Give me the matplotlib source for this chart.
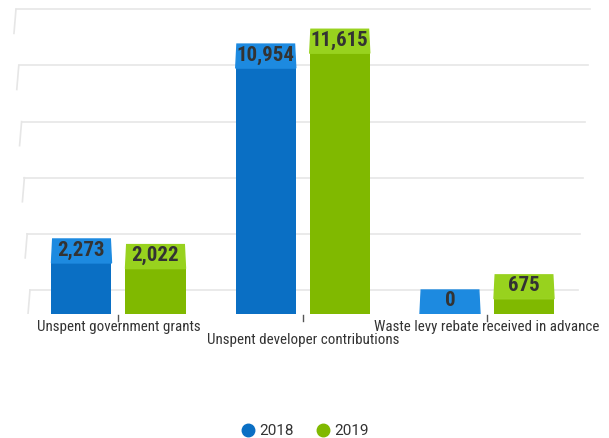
import matplotlib.pyplot as plt
from matplotlib.patches import Polygon
from matplotlib.lines import Line2D

categories = ['Unspent government grants', 'Unspent developer contributions',
              'Waste levy rebate received in advance']
series_names = ['2018', '2019']
values_2018 = [2273, 10954, 0]
values_2019 = [2022, 11615, 675]
grid_values = [0, 2500, 5000, 7500, 10000, 12500]

W, H = 609, 438
fig = plt.figure(figsize=(W / 100, H / 100), dpi=100)

# pixel layout of the fake 3d plot
px_per_unit = 0.02245   # vertical pixels per value unit
y0_px = 314             # front baseline, from top
group_px = 184.25       # distance between category centres
first_px = 118.5        # centre of first category

ax = fig.add_axes([0, (H - y0_px) / H, 1, (y0_px - 4) / H])
ax.set_ylim(0, (y0_px - 4) / px_per_unit)
ax.set_xlim(-first_px / group_px, (W - first_px) / group_px)
ax.axis('off')


def ux(px):
    return (px - first_px) / group_px


def uy(px):
    return (y0_px - px) / px_per_unit


depth = 24 / px_per_unit   # depth of top face / back wall in value units
text_col = '#333333'
grid_col = '#e6e6e6'
cond = 'Roboto Condensed'

# back wall gridlines + left side wall
for g in grid_values:
    yb_px = y0_px - (g + depth) * px_per_unit
    f = (yb_px - 10) / 280.0
    xl = 16 + 14 * f
    xr = 590 - 12 * f
    ax.plot([ux(xl), ux(xr)], [g + depth, g + depth], color=grid_col, lw=1.2, zorder=1)
    ax.plot([ux(xl), ux(xl - 2)], [g + depth, g], color=grid_col, lw=1.2, zorder=1)

# bars
bw = 60 / group_px
off = 37 / group_px
series = [(values_2018, -1, '#0a6fc4', '#1d8ae0'),
          (values_2019, 1, '#80b900', '#98d21e')]
for vals, sign, front, top in series:
    xs = [i + sign * off for i in range(len(categories))]
    ax.bar(xs, vals, width=bw, color=front, zorder=3)
    for x, v in zip(xs, vals):
        sh = 1.2 / group_px
        ax.add_patch(Polygon([(x - bw / 2, v), (x + bw / 2, v),
                              (x + bw / 2 - sh, v + depth), (x - bw / 2 + sh, v + depth)],
                             closed=True, color=top, zorder=3))
        ax.text(x, v + depth - 1.5 / px_per_unit, f'{v:,}', ha='center', va='top',
                fontsize=15, fontweight='bold', family=cond, color=text_col, zorder=4)

# category ticks and labels
for i, cat in enumerate(categories):
    ax.plot([i, i], [uy(315), uy(321)], color='#555555', lw=1, clip_on=False)
    ly = 327 if i != 1 else 340
    ax.text(i, uy(ly), cat, ha='center', va='center', fontsize=10.8,
            family=cond, color=text_col, clip_on=False)

# legend
handles = [Line2D([], [], marker='o', ls='', color=c, markersize=9)
           for c in ['#0a6fc4', '#80b900']]
fig.legend(handles, series_names, loc='center', bbox_to_anchor=(305 / W, 1 - 431 / H),
           ncol=2, frameon=False, handlelength=0.8, handletextpad=0.35, columnspacing=1.5,
           prop={'family': 'Roboto', 'size': 11}, labelcolor=text_col)

fig.savefig('out.png', dpi=100)
